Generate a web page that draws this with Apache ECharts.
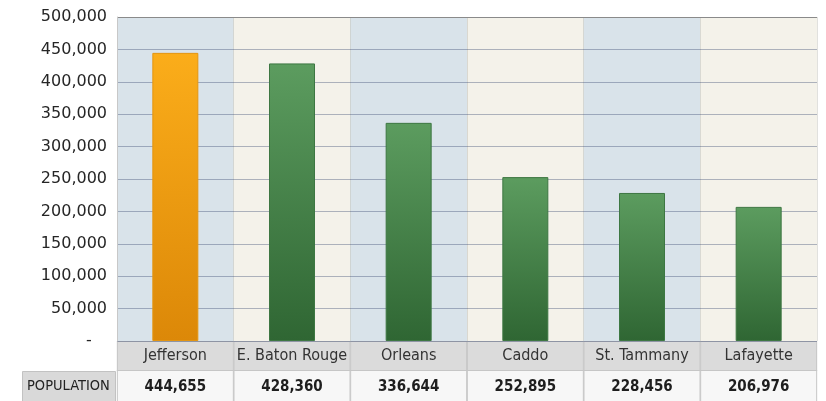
<!DOCTYPE html>
<html>
<head>
<meta charset="utf-8">
<script src="https://cdn.jsdelivr.net/npm/echarts@6/dist/echarts.min.js"></script>
<style>
  html, body { margin: 0; padding: 0; background: #ffffff; }
  #chart { width: 826px; height: 401px; }
</style>
</head>
<body>
<div id="chart"></div>
<script>
// Parish populations, largest six
const parishes = ['Jefferson', 'E. Baton Rouge', 'Orleans', 'Caddo', 'St. Tammany', 'Lafayette'];
const population = [444655, 428360, 336644, 252895, 228456, 206976];
const yTicks = { min: 0, max: 500000, interval: 50000 };
const rowTitle = 'POPULATION';
const highlighted = 'Jefferson';

const narrow = "'Liberation Sans Narrow', 'DejaVu Sans Condensed', 'Arial Narrow', sans-serif";

const fmt = v => v.toLocaleString('en-US');
// accounting-style zero: a dash set in from the right edge
const fmtAxis = v => v === 0 ? '-\u00a0\u00a0\u00a0' : fmt(v);

const grad = (top, bottom) => new echarts.graphic.LinearGradient(0, 0, 0, 1, [
  { offset: 0, color: top }, { offset: 1, color: bottom }
]);

const barData = population.map((v, i) => {
  const hot = parishes[i] === highlighted;
  return {
    value: v,
    itemStyle: hot
      ? { color: grad('#fbad1a', '#dc8808'), borderColor: '#e39512', borderWidth: 1 }
      : { color: grad('#5c9c5f', '#2f6633'), borderColor: '#3d7742', borderWidth: 1 }
  };
});

// grid lines: translucent so they tint with each band; the top one frames the plot
const gridColors = [];
for (let v = yTicks.min; v <= yTicks.max; v += yTicks.interval) {
  gridColors.push(v === yTicks.max ? '#8a8a8a' : 'rgba(45,60,105,0.36)');
}

const chart = echarts.init(document.getElementById('chart'), null, { renderer: 'canvas' });

chart.setOption({
  animation: false,
  backgroundColor: '#ffffff',
  grid: { left: 117, right: 9, top: 17, bottom: 60, containLabel: false, outerBoundsMode: 'none' },
  xAxis: [
    {
      type: 'category',
      data: parishes,
      position: 'bottom',
      z: 0,
      axisLine: { show: false },
      axisTick: { show: false },
      splitArea: { show: true, areaStyle: { color: ['#d9e3ea', '#f4f2ea'] } },
      splitLine: { show: true, lineStyle: { color: 'rgba(170,170,160,0.35)', width: 1 } },
      axisLabel: {
        interval: 0,
        margin: 1,
        width: 115,
        height: 28,
        lineHeight: 28,
        padding: 0,
        align: 'center',
        backgroundColor: '#dbdbdb',
        borderColor: '#c6c6c6',
        borderWidth: 1,
        color: '#333333',
        fontFamily: narrow,
        fontSize: 16
      }
    },
    {
      type: 'category',
      data: parishes,
      position: 'bottom',
      offset: 29,
      axisLine: { show: false },
      axisTick: { show: false },
      splitArea: { show: false },
      splitLine: { show: false },
      axisLabel: {
        interval: 0,
        margin: 1,
        width: 115,
        height: 32,
        lineHeight: 32,
        padding: 0,
        align: 'center',
        backgroundColor: '#f7f7f7',
        borderColor: '#c6c6c6',
        borderWidth: 1,
        color: '#1e1e1e',
        fontFamily: narrow,
        fontWeight: 'bold',
        fontSize: 15,
        formatter: (value) => fmt(population[parishes.indexOf(value)])
      }
    }
  ],
  yAxis: {
    type: 'value',
    min: yTicks.min,
    max: yTicks.max,
    interval: yTicks.interval,
    z: 1,
    axisLine: { show: true, lineStyle: { color: '#c8c8c8' } },
    axisTick: { show: false },
    axisLabel: {
      margin: 10,
      color: '#262626',
      fontFamily: "'DejaVu Sans', sans-serif",
      fontSize: 16,
      formatter: fmtAxis
    },
    splitLine: { show: true, lineStyle: { color: gridColors, width: 1.2 } }
  },
  graphic: [
    {
      type: 'rect',
      left: 22,
      top: 371,
      shape: { width: 93, height: 32 },
      style: { fill: '#d9d9d9', stroke: '#c2c2c2', lineWidth: 1 },
      z: 10
    },
    {
      type: 'text',
      left: 27,
      top: 379,
      style: {
        text: rowTitle,
        fill: '#222222',
        font: "14.5px " + narrow
      },
      z: 11
    }
  ],
  series: [{
    type: 'bar',
    xAxisIndex: 0,
    barWidth: 46,
    z: 3,
    data: barData
  }]
});
</script>
</body>
</html>
